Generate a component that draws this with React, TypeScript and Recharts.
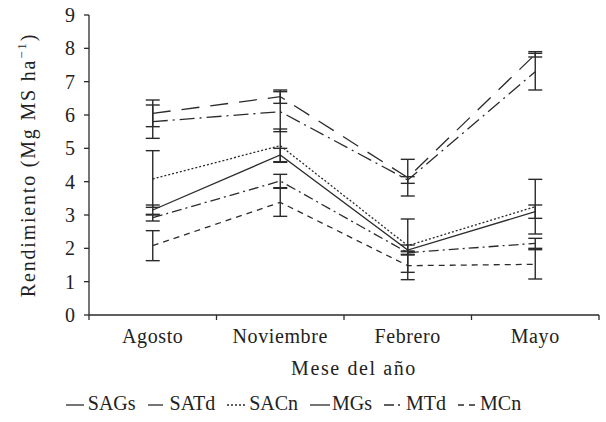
import React from 'react';
import { LineChart, Line, XAxis, YAxis, ErrorBar, Legend } from 'recharts';

const MONTHS = ['Agosto', 'Noviembre', 'Febrero', 'Mayo'];

const SAGS = [6.05, 6.55, 4.12, 7.82];
const SAGS_ERR = [0.4, 0.2, 0.55, 0.08];
const SATD = [5.8, 6.1, 4.05, 7.3];
const SATD_ERR = [0.5, 0.6, 0.1, 0.55];
const SACN = [4.08, 5.08, 2.08, 3.25];
const SACN_ERR = [0.85, 0.5, 0.8, 0.82];
const MGS = [3.15, 4.8, 1.95, 3.1];
const MGS_ERR = [0.15, 0.2, 0.15, 0.2];
const MTD = [2.92, 4.02, 1.87, 2.15];
const MTD_ERR = [0.1, 0.2, 0.05, 0.15];
const MCN = [2.08, 3.38, 1.48, 1.52];
const MCN_ERR = [0.45, 0.42, 0.42, 0.44];

const Y_TICKS = [0, 1, 2, 3, 4, 5, 6, 7, 8, 9];

const INK = '#2b2b2b';
const FONT = '"Liberation Serif", "DejaVu Serif", serif';

const SERIES = [
  { key: 'SAGs', values: SAGS, err: SAGS_ERR, dash: '18 11' },
  { key: 'SATd', values: SATD, err: SATD_ERR, dash: '15 5 2 5' },
  { key: 'SACn', values: SACN, err: SACN_ERR, dash: '2 2' },
  { key: 'MGs', values: MGS, err: MGS_ERR, dash: undefined },
  { key: 'MTd', values: MTD, err: MTD_ERR, dash: '10 4 2 4' },
  { key: 'MCn', values: MCN, err: MCN_ERR, dash: '6 5' },
];

// category i sits in the middle of band [i, i+1]
const data = MONTHS.map((m, i) => {
  const row: Record<string, number | string> = { month: m, pos: i + 0.5 };
  SERIES.forEach((s) => {
    row[s.key] = s.values[i];
    row[s.key + 'Err'] = s.err[i];
  });
  return row;
});

const X_TICKS = [0, 0.5, 1, 1.5, 2, 2.5, 3, 3.5, 4];

function MonthTick(props: any) {
  const { x, y, payload } = props;
  const v = payload.value as number;
  if (Number.isInteger(v)) {
    return <line x1={x} x2={x} y1={y} y2={y + 5} stroke={INK} strokeWidth={1.3} />;
  }
  return (
    <text
      x={x}
      y={y + 28}
      textAnchor="middle"
      fontSize={20}
      letterSpacing={0.6}
      fill="#222"
      style={{ fontFamily: FONT }}
    >
      {MONTHS[Math.floor(v)]}
    </text>
  );
}

function XLabel(props: any) {
  const vb = props.viewBox || { x: 89, y: 315, width: 510, height: 75 };
  const cx = vb.x + vb.width / 2 + 10;
  return (
    <text
      x={cx}
      y={vb.y + 60}
      textAnchor="middle"
      fontSize={20}
      letterSpacing={1.6}
      fill="#222"
      style={{ fontFamily: FONT }}
    >
      Mese del año
    </text>
  );
}

function YLabel(props: any) {
  const vb = props.viewBox || { x: 0, y: 15, width: 89, height: 300 };
  const cx = 28;
  const cy = vb.y + vb.height / 2;
  return (
    <text
      x={cx}
      y={cy}
      transform={`rotate(-90, ${cx}, ${cy})`}
      textAnchor="middle"
      dominantBaseline="central"
      fontSize={20}
      letterSpacing={1.8}
      fill="#222"
      style={{ fontFamily: FONT }}
    >
      Rendimiento (Mg MS ha
      <tspan dy={-7} fontSize={13}>−1</tspan>
      <tspan dy={7}>)</tspan>
    </text>
  );
}

function LegendContent() {
  return (
    <div
      style={{
        display: 'flex',
        justifyContent: 'center',
        alignItems: 'center',
        fontFamily: FONT,
        fontSize: 20,
        color: '#222',
      }}
    >
      {SERIES.map((s) => (
        <span key={s.key} style={{ display: 'inline-flex', alignItems: 'center', marginRight: 12 }}>
          <svg width={20} height={10}>
            <line x1={0} x2={20} y1={6} y2={6} stroke={INK} strokeWidth={1.3} strokeDasharray={s.dash} />
          </svg>
          <span style={{ marginLeft: 2 }}>{s.key}</span>
        </span>
      ))}
    </div>
  );
}

export default function App() {
  return (
    <div style={{ position: 'absolute', left: 0, top: 0, width: 606, height: 422, background: '#fff' }}>
      <LineChart
        width={606}
        height={422}
        data={data}
        margin={{ top: 15, right: 7, bottom: 0, left: 0 }}
        style={{ fontFamily: FONT }}
      >
        <XAxis
          type="number"
          dataKey="pos"
          domain={[0, 4]}
          ticks={X_TICKS}
          interval={0}
          tick={<MonthTick />}
          tickLine={false}
          tickSize={0}
          tickMargin={0}
          height={77}
          axisLine={{ stroke: INK, strokeWidth: 1.3 }}
          label={<XLabel />}
        />
        <YAxis
          domain={[0, 9]}
          ticks={Y_TICKS}
          interval={0}
          width={89}
          tickSize={5}
          tickMargin={9}
          tick={{ fontSize: 20, fill: '#222', style: { fontFamily: FONT } }}
          tickLine={{ stroke: INK, strokeWidth: 1.3 }}
          axisLine={{ stroke: INK, strokeWidth: 1.3 }}
          label={<YLabel />}
        />
        <Legend verticalAlign="bottom" height={30} content={<LegendContent />} />
        {SERIES.map((s) => (
          <Line
            key={s.key}
            type="linear"
            dataKey={s.key}
            stroke={INK}
            strokeWidth={1.3}
            strokeDasharray={s.dash}
            dot={false}
            activeDot={false}
            isAnimationActive={false}
          >
            <ErrorBar dataKey={s.key + 'Err'} direction="y" width={7} stroke={INK} strokeWidth={1.4} />
          </Line>
        ))}
      </LineChart>
    </div>
  );
}
